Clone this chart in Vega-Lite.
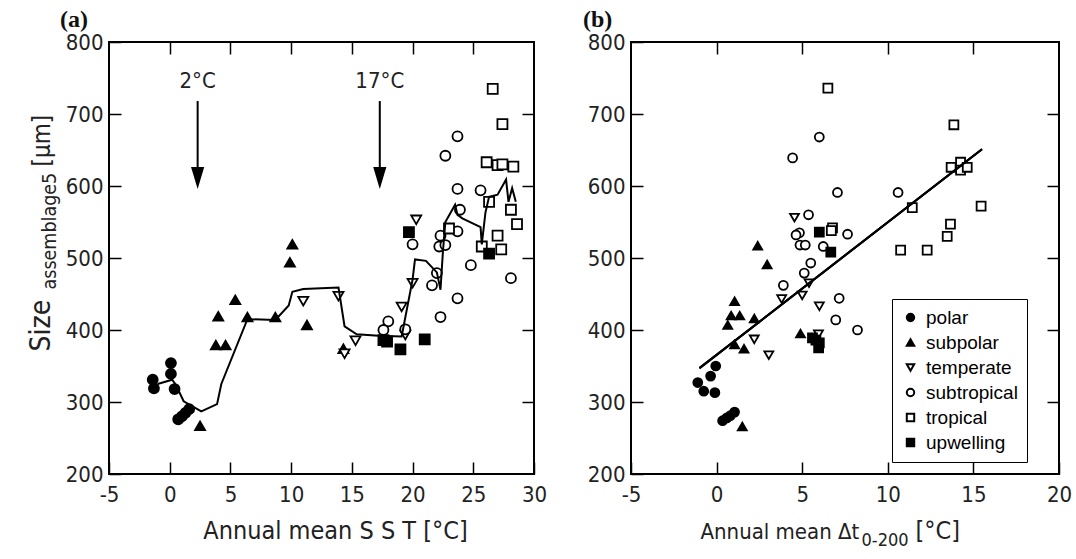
{
  "$schema": "https://vega.github.io/schema/vega-lite/v6.json",
  "background": "white",
  "padding": {"left": 26, "top": 7, "right": 5, "bottom": 5},
  "autosize": {"type": "pad"},
  "spacing": 97,
  "bounds": "flush",
  "config": {
    "view": {"stroke": "black", "strokeWidth": 2},
    "axis": {
      "domain": false, "grid": false, "tickColor": "black", "tickWidth": 1.5, "tickSize": -12,
      "minExtent": 0,
      "labelFont": "DejaVu Sans Condensed", "labelFontSize": 22, "labelColor": "#222",
      "labelFlush": false, "labelOverlap": false, "labelBound": false,
      "labelExpr": "'' + datum.value",
      "titleFont": "DejaVu Sans Condensed", "titleFontWeight": "normal", "titleColor": "#222"
    }
  },
  "datasets": {
    "a_pts": [
      {"x": -1.4, "y": 331, "zone": "polar"}, {"x": -1.3, "y": 319, "zone": "polar"}, {"x": 0.1, "y": 354, "zone": "polar"}, {"x": 0.1, "y": 339, "zone": "polar"}, {"x": 0.4, "y": 318, "zone": "polar"}, {"x": 0.7, "y": 276, "zone": "polar"}, {"x": 1.0, "y": 280, "zone": "polar"}, {"x": 1.3, "y": 285, "zone": "polar"}, {"x": 1.6, "y": 290, "zone": "polar"},
      {"x": 10.1, "y": 519, "zone": "subpolar"}, {"x": 9.9, "y": 494, "zone": "subpolar"}, {"x": 5.4, "y": 442, "zone": "subpolar"}, {"x": 4.0, "y": 419, "zone": "subpolar"}, {"x": 6.4, "y": 418, "zone": "subpolar"}, {"x": 8.7, "y": 418, "zone": "subpolar"}, {"x": 3.8, "y": 379, "zone": "subpolar"}, {"x": 4.6, "y": 379, "zone": "subpolar"}, {"x": 2.5, "y": 267, "zone": "subpolar"}, {"x": 11.3, "y": 407, "zone": "subpolar"}, {"x": 14.3, "y": 374, "zone": "subpolar"},
      {"x": 11.0, "y": 440, "zone": "temperate"}, {"x": 13.9, "y": 447, "zone": "temperate"}, {"x": 15.3, "y": 385, "zone": "temperate"}, {"x": 14.4, "y": 367, "zone": "temperate"}, {"x": 19.1, "y": 432, "zone": "temperate"}, {"x": 20.0, "y": 465, "zone": "temperate"}, {"x": 19.4, "y": 393, "zone": "temperate"}, {"x": 20.3, "y": 553, "zone": "temperate"},
      {"x": 18.0, "y": 412, "zone": "subtropical"}, {"x": 17.6, "y": 400, "zone": "subtropical"}, {"x": 19.4, "y": 401, "zone": "subtropical"}, {"x": 20.0, "y": 519, "zone": "subtropical"}, {"x": 22.3, "y": 418, "zone": "subtropical"}, {"x": 21.6, "y": 462, "zone": "subtropical"}, {"x": 22.0, "y": 479, "zone": "subtropical"}, {"x": 22.2, "y": 516, "zone": "subtropical"}, {"x": 22.7, "y": 518, "zone": "subtropical"}, {"x": 22.3, "y": 531, "zone": "subtropical"}, {"x": 23.7, "y": 537, "zone": "subtropical"}, {"x": 23.9, "y": 567, "zone": "subtropical"}, {"x": 23.7, "y": 596, "zone": "subtropical"}, {"x": 25.6, "y": 594, "zone": "subtropical"}, {"x": 22.7, "y": 642, "zone": "subtropical"}, {"x": 23.7, "y": 669, "zone": "subtropical"}, {"x": 24.8, "y": 490, "zone": "subtropical"}, {"x": 23.7, "y": 444, "zone": "subtropical"}, {"x": 28.1, "y": 472, "zone": "subtropical"},
      {"x": 26.6, "y": 735, "zone": "tropical"}, {"x": 27.4, "y": 686, "zone": "tropical"}, {"x": 26.1, "y": 633, "zone": "tropical"}, {"x": 27.0, "y": 629, "zone": "tropical"}, {"x": 27.4, "y": 630, "zone": "tropical"}, {"x": 28.3, "y": 627, "zone": "tropical"}, {"x": 26.3, "y": 578, "zone": "tropical"}, {"x": 28.1, "y": 567, "zone": "tropical"}, {"x": 28.6, "y": 547, "zone": "tropical"}, {"x": 23.0, "y": 541, "zone": "tropical"}, {"x": 27.0, "y": 531, "zone": "tropical"}, {"x": 25.7, "y": 516, "zone": "tropical"}, {"x": 27.3, "y": 512, "zone": "tropical"},
      {"x": 19.7, "y": 536, "zone": "upwelling"}, {"x": 17.6, "y": 386, "zone": "upwelling"}, {"x": 17.9, "y": 384, "zone": "upwelling"}, {"x": 19.0, "y": 373, "zone": "upwelling"}, {"x": 21.0, "y": 387, "zone": "upwelling"}, {"x": 26.3, "y": 506, "zone": "upwelling"}
    ],
    "a_line": [
      {"x": -1.0, "y": 325}, {"x": 0.2, "y": 331}, {"x": 0.5, "y": 324}, {"x": 1.15, "y": 301}, {"x": 2.6, "y": 287}, {"x": 3.9, "y": 297}, {"x": 4.25, "y": 325}, {"x": 6.4, "y": 415}, {"x": 8.7, "y": 414}, {"x": 9.8, "y": 434}, {"x": 10.1, "y": 453}, {"x": 11.0, "y": 457}, {"x": 13.9, "y": 459}, {"x": 14.4, "y": 405}, {"x": 15.4, "y": 394}, {"x": 17.2, "y": 392}, {"x": 19.1, "y": 391}, {"x": 20.0, "y": 470}, {"x": 20.2, "y": 498}, {"x": 21.1, "y": 496}, {"x": 22.0, "y": 480}, {"x": 22.3, "y": 456}, {"x": 22.5, "y": 509}, {"x": 22.7, "y": 550}, {"x": 23.5, "y": 574}, {"x": 23.7, "y": 560}, {"x": 24.1, "y": 555}, {"x": 25.6, "y": 543}, {"x": 25.7, "y": 519}, {"x": 26.0, "y": 563}, {"x": 26.3, "y": 585}, {"x": 27.0, "y": 588}, {"x": 27.7, "y": 609}, {"x": 27.9, "y": 578}, {"x": 28.2, "y": 597}, {"x": 28.5, "y": 578}
    ],
    "arrows": [
      {"x": 2.3, "y1": 718, "y2": 622, "yh": 611, "yt": 746, "label": "2°C"},
      {"x": 17.3, "y1": 718, "y2": 622, "yh": 611, "yt": 746, "label": "17°C"}
    ],
    "b_pts": [
      {"x": -1.1, "y": 327, "zone": "polar"}, {"x": -0.75, "y": 315, "zone": "polar"}, {"x": -0.35, "y": 336, "zone": "polar"}, {"x": -0.05, "y": 350, "zone": "polar"}, {"x": -0.1, "y": 313, "zone": "polar"}, {"x": 0.35, "y": 274, "zone": "polar"}, {"x": 0.6, "y": 278, "zone": "polar"}, {"x": 1.05, "y": 286, "zone": "polar"}, {"x": 0.8, "y": 281, "zone": "polar"},
      {"x": 2.4, "y": 517, "zone": "subpolar"}, {"x": 2.95, "y": 491, "zone": "subpolar"}, {"x": 1.05, "y": 440, "zone": "subpolar"}, {"x": 0.85, "y": 420, "zone": "subpolar"}, {"x": 1.35, "y": 420, "zone": "subpolar"}, {"x": 2.2, "y": 416, "zone": "subpolar"}, {"x": 0.65, "y": 407, "zone": "subpolar"}, {"x": 1.05, "y": 380, "zone": "subpolar"}, {"x": 1.6, "y": 374, "zone": "subpolar"}, {"x": 1.5, "y": 266, "zone": "subpolar"}, {"x": 4.9, "y": 395, "zone": "subpolar"},
      {"x": 4.55, "y": 556, "zone": "temperate"}, {"x": 5.4, "y": 465, "zone": "temperate"}, {"x": 5.0, "y": 448, "zone": "temperate"}, {"x": 3.8, "y": 443, "zone": "temperate"}, {"x": 6.0, "y": 433, "zone": "temperate"}, {"x": 2.2, "y": 387, "zone": "temperate"}, {"x": 3.05, "y": 365, "zone": "temperate"}, {"x": 5.95, "y": 394, "zone": "temperate"},
      {"x": 3.9, "y": 462, "zone": "subtropical"}, {"x": 4.84, "y": 535, "zone": "subtropical"}, {"x": 4.64, "y": 532, "zone": "subtropical"}, {"x": 4.87, "y": 518, "zone": "subtropical"}, {"x": 5.18, "y": 518, "zone": "subtropical"}, {"x": 7.65, "y": 533, "zone": "subtropical"}, {"x": 6.23, "y": 516, "zone": "subtropical"}, {"x": 5.5, "y": 493, "zone": "subtropical"}, {"x": 5.12, "y": 479, "zone": "subtropical"}, {"x": 7.16, "y": 444, "zone": "subtropical"}, {"x": 6.96, "y": 414, "zone": "subtropical"}, {"x": 8.23, "y": 400, "zone": "subtropical"}, {"x": 6.0, "y": 668, "zone": "subtropical"}, {"x": 4.44, "y": 639, "zone": "subtropical"}, {"x": 7.06, "y": 591, "zone": "subtropical"}, {"x": 10.6, "y": 591, "zone": "subtropical"}, {"x": 5.37, "y": 560, "zone": "subtropical"},
      {"x": 6.5, "y": 736, "zone": "tropical"}, {"x": 13.86, "y": 685, "zone": "tropical"}, {"x": 13.7, "y": 626, "zone": "tropical"}, {"x": 14.25, "y": 633, "zone": "tropical"}, {"x": 14.25, "y": 622, "zone": "tropical"}, {"x": 14.64, "y": 626, "zone": "tropical"}, {"x": 11.43, "y": 570, "zone": "tropical"}, {"x": 15.45, "y": 572, "zone": "tropical"}, {"x": 13.66, "y": 547, "zone": "tropical"}, {"x": 13.47, "y": 530, "zone": "tropical"}, {"x": 10.75, "y": 511, "zone": "tropical"}, {"x": 12.3, "y": 511, "zone": "tropical"}, {"x": 6.77, "y": 542, "zone": "tropical"}, {"x": 6.7, "y": 538, "zone": "tropical"},
      {"x": 6.0, "y": 536, "zone": "upwelling"}, {"x": 6.67, "y": 508, "zone": "upwelling"}, {"x": 5.6, "y": 389, "zone": "upwelling"}, {"x": 6.0, "y": 382, "zone": "upwelling"}, {"x": 5.96, "y": 375, "zone": "upwelling"}, {"x": 5.8, "y": 386, "zone": "upwelling"}
    ],
    "b_reg": [{"x": -1.0, "y": 347}, {"x": 15.5, "y": 651}]
  },
  "resolve": {"scale": {"shape": "independent", "fill": "independent"}, "legend": {"shape": "independent", "fill": "independent"}},
  "hconcat": [
    {
      "width": 425, "height": 432,
      "title": {"text": "(a)", "anchor": "start", "frame": "group", "dx": -49, "font": "Liberation Serif", "fontSize": 24, "fontWeight": "bold", "color": "#111", "baseline": "alphabetic", "offset": -20},
      "resolve": {"axis": {"x": "independent", "y": "independent"}},
      "layer": [
        {
          "data": {"name": "a_pts"},
          "mark": {"type": "point", "filled": false, "stroke": "black", "strokeWidth": 1.8, "size": 100, "opacity": 1},
          "encoding": {
            "x": {"field": "x", "type": "quantitative", "scale": {"domain": [-5, 30], "nice": false, "zero": false},
                  "axis": {"orient": "bottom", "values": [-5, 0, 5, 10, 15, 20, 25, 30], "labelPadding": 22, "title": "Annual mean S S T [°C]", "titleX": 226, "titleY": 64, "titleBaseline": "alphabetic", "titleFontSize": 25}},
            "y": {"field": "y", "type": "quantitative", "scale": {"domain": [200, 800], "nice": false, "zero": false},
                  "axis": {"orient": "left", "values": [200, 300, 400, 500, 600, 700, 800], "labelPadding": 18, "title": "Size", "titleAngle": -90, "titleAlign": "left", "titleBaseline": "alphabetic", "titleX": -60, "titleY": 309, "titleFontSize": 28}},
            "shape": {"field": "zone", "type": "nominal", "legend": null, "scale": {"domain": ["polar", "subpolar", "temperate", "subtropical", "tropical", "upwelling"], "range": ["circle", "triangle-up", "triangle-down", "circle", "square", "square"]}},
            "fill": {"field": "zone", "type": "nominal", "legend": null, "scale": {"domain": ["polar", "subpolar", "temperate", "subtropical", "tropical", "upwelling"], "range": ["black", "black", "white", "white", "white", "black"]}}
          }
        },
        {
          "data": {"name": "a_line"},
          "mark": {"type": "line", "color": "black", "strokeWidth": 2},
          "encoding": {
            "x": {"field": "x", "type": "quantitative", "axis": null},
            "y": {"field": "y", "type": "quantitative", "axis": null}
          }
        },
        {
          "data": {"name": "arrows"},
          "mark": {"type": "rule", "color": "black", "strokeWidth": 2},
          "encoding": {
            "x": {"field": "x", "type": "quantitative", "axis": {"orient": "top", "labels": false, "title": null, "values": [0, 5, 10, 15, 20, 25]}},
            "y": {"field": "y1", "type": "quantitative", "axis": {"orient": "right", "labels": false, "title": null, "values": [300, 400, 500, 600, 700]}},
            "y2": {"field": "y2"}
          }
        },
        {
          "data": {"name": "arrows"},
          "mark": {"type": "point", "shape": "M-0.6,-1L0.6,-1L0,1Z", "filled": true, "color": "black", "size": 484, "opacity": 1, "strokeWidth": 0},
          "encoding": {
            "x": {"field": "x", "type": "quantitative", "axis": null},
            "y": {"field": "yh", "type": "quantitative", "axis": {"orient": "left", "labels": false, "ticks": false, "title": "assemblage5", "titleAngle": -90, "titleAlign": "left", "titleBaseline": "alphabetic", "titleX": -54, "titleY": 247, "titleFontSize": 19.5}}
          }
        },
        {
          "data": {"name": "arrows"},
          "mark": {"type": "text", "font": "DejaVu Sans Condensed", "fontSize": 22, "color": "#222"},
          "encoding": {
            "x": {"field": "x", "type": "quantitative", "axis": null},
            "y": {"field": "yt", "type": "quantitative", "axis": {"orient": "left", "labels": false, "ticks": false, "title": "[µm]", "titleAngle": -90, "titleAlign": "left", "titleBaseline": "alphabetic", "titleX": -60, "titleY": 124, "titleFontSize": 24}},
            "text": {"field": "label"}
          }
        }
      ]
    },
    {
      "width": 428, "height": 432,
      "title": {"text": "(b)", "anchor": "start", "frame": "group", "dx": -48, "font": "Liberation Serif", "fontSize": 24, "fontWeight": "bold", "color": "#111", "baseline": "alphabetic", "offset": -20},
      "resolve": {"axis": {"x": "independent", "y": "independent"}},
      "layer": [
        {
          "data": {"name": "b_pts"},
          "mark": {"type": "point", "filled": false, "stroke": "black", "strokeWidth": 1.8, "size": 80, "opacity": 1},
          "encoding": {
            "x": {"field": "x", "type": "quantitative", "scale": {"domain": [-5, 20], "nice": false, "zero": false},
                  "axis": {"orient": "bottom", "values": [-5, 0, 5, 10, 15, 20], "labelPadding": 22, "title": "Annual mean Δt", "titleAlign": "left", "titleX": 69, "titleY": 64, "titleBaseline": "alphabetic", "titleFontSize": 22}},
            "y": {"field": "y", "type": "quantitative", "scale": {"domain": [200, 800], "nice": false, "zero": false},
                  "axis": {"orient": "left", "values": [200, 300, 400, 500, 600, 700, 800], "labelPadding": 18, "title": null}},
            "shape": {"field": "zone", "type": "nominal",
                      "scale": {"domain": ["polar", "subpolar", "temperate", "subtropical", "tropical", "upwelling"], "range": ["circle", "triangle-up", "triangle-down", "circle", "square", "square"]},
                      "legend": {"title": null, "orient": "none", "legendX": 261, "legendY": 257, "strokeColor": "black", "fillColor": "white", "padding": 9, "symbolOffset": 0, "labelOffset": 6, "labelFont": "Liberation Sans", "labelFontSize": 19, "labelColor": "black", "symbolSize": 55, "symbolStrokeWidth": 2, "rowPadding": 5}},
            "fill": {"field": "zone", "type": "nominal",
                     "scale": {"domain": ["polar", "subpolar", "temperate", "subtropical", "tropical", "upwelling"], "range": ["black", "black", "white", "white", "white", "black"]},
                     "legend": {"title": null, "orient": "none", "legendX": 261, "legendY": 257, "strokeColor": "black", "fillColor": "white", "padding": 9, "symbolOffset": 0, "labelOffset": 6, "labelFont": "Liberation Sans", "labelFontSize": 19, "labelColor": "black", "symbolSize": 55, "symbolStrokeWidth": 2, "rowPadding": 5}}
          }
        },
        {
          "data": {"name": "b_reg"},
          "mark": {"type": "line", "color": "black", "strokeWidth": 2},
          "encoding": {
            "x": {"field": "x", "type": "quantitative", "axis": {"orient": "top", "labels": false, "title": null, "values": [0, 5, 10, 15]}},
            "y": {"field": "y", "type": "quantitative", "axis": {"orient": "right", "labels": false, "title": null, "values": [300, 400, 500, 600, 700]}}
          }
        },
        {
          "data": {"name": "b_reg"},
          "mark": {"type": "line", "color": "black", "strokeWidth": 2},
          "encoding": {
            "x": {"field": "x", "type": "quantitative", "axis": {"orient": "bottom", "labels": false, "ticks": false, "title": "0-200", "titleAlign": "left", "titleX": 230, "titleY": 71, "titleBaseline": "alphabetic", "titleFontSize": 18}},
            "y": {"field": "y", "type": "quantitative", "axis": null}
          }
        },
        {
          "data": {"name": "b_reg"},
          "mark": {"type": "line", "color": "black", "strokeWidth": 2},
          "encoding": {
            "x": {"field": "x", "type": "quantitative", "axis": {"orient": "bottom", "labels": false, "ticks": false, "title": "[°C]", "titleAlign": "left", "titleX": 284, "titleY": 64, "titleBaseline": "alphabetic", "titleFontSize": 25}},
            "y": {"field": "y", "type": "quantitative", "axis": null}
          }
        }
      ]
    }
  ]
}
